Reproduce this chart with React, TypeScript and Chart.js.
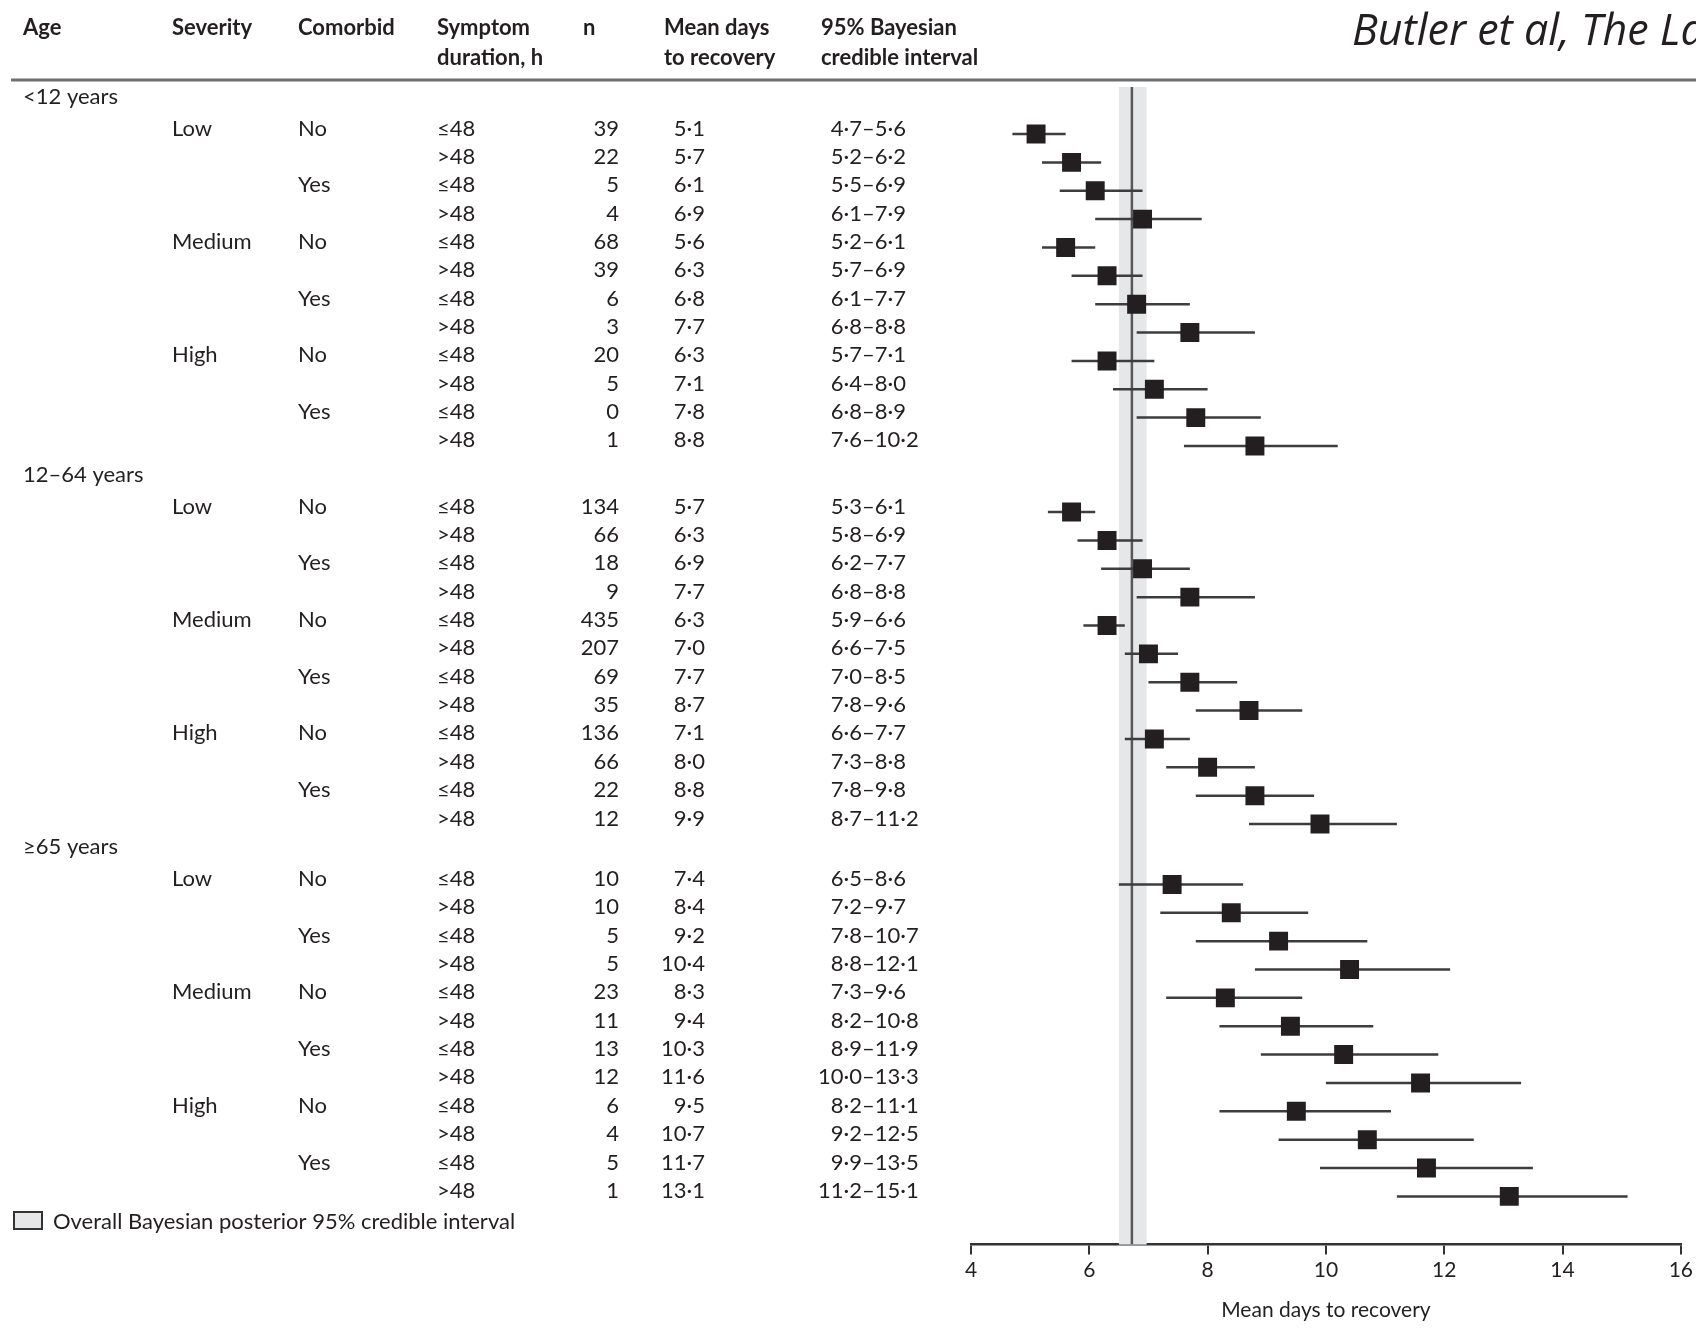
import React, { useEffect, useRef } from "react";
import { Chart, registerables } from "chart.js";

Chart.register(...registerables);

// ---------- data ----------
const AGE_GROUPS = ["<12 years", "12–64 years", "≥65 years"];
const SEVERITY = ["Low", "Medium", "High"];
const COMORBID = ["No", "Yes"];
const DURATION = ["≤48", ">48"];

const N_VALUES = [
  39, 22, 5, 4, 68, 39, 6, 3, 20, 5, 0, 1,
  134, 66, 18, 9, 435, 207, 69, 35, 136, 66, 22, 12,
  10, 10, 5, 5, 23, 11, 13, 12, 6, 4, 5, 1,
];
const MEAN_DAYS = [
  5.1, 5.7, 6.1, 6.9, 5.6, 6.3, 6.8, 7.7, 6.3, 7.1, 7.8, 8.8,
  5.7, 6.3, 6.9, 7.7, 6.3, 7.0, 7.7, 8.7, 7.1, 8.0, 8.8, 9.9,
  7.4, 8.4, 9.2, 10.4, 8.3, 9.4, 10.3, 11.6, 9.5, 10.7, 11.7, 13.1,
];
const CI_LOW = [
  4.7, 5.2, 5.5, 6.1, 5.2, 5.7, 6.1, 6.8, 5.7, 6.4, 6.8, 7.6,
  5.3, 5.8, 6.2, 6.8, 5.9, 6.6, 7.0, 7.8, 6.6, 7.3, 7.8, 8.7,
  6.5, 7.2, 7.8, 8.8, 7.3, 8.2, 8.9, 10.0, 8.2, 9.2, 9.9, 11.2,
];
const CI_HIGH = [
  5.6, 6.2, 6.9, 7.9, 6.1, 6.9, 7.7, 8.8, 7.1, 8.0, 8.9, 10.2,
  6.1, 6.9, 7.7, 8.8, 6.6, 7.5, 8.5, 9.6, 7.7, 8.8, 9.8, 11.2,
  8.6, 9.7, 10.7, 12.1, 9.6, 10.8, 11.9, 13.3, 11.1, 12.5, 13.5, 15.1,
];
const OVERALL_MEAN = 6.72;
const OVERALL_LOW = 6.5;
const OVERALL_HIGH = 6.97;
const X_TICKS = [4, 6, 8, 10, 12, 14, 16];

const HEADER_LINE1 = ["Age", "Severity", "Comorbid", "Symptom", "n", "Mean days", "95% Bayesian"];
const HEADER_LINE2 = ["", "", "", "duration, h", "", "to recovery", "credible interval"];
const LEGEND_TEXT = "Overall Bayesian posterior 95% credible interval";
const AXIS_TITLE = "Mean days to recovery";
const SOURCE_TEXT = "Butler et al, The Lancet";

// ---------- layout (not data) ----------
const ROWS_PER_GROUP = 12;
const GROUP_GAP = [0, 1.33, 2.46];
const Y_MIN = -1.658;
const Y_MAX = 39.16;
const HEADER_X = [23, 172, 298, 437, 583, 664, 821];
const TEXT = "#231f20";
const FONT = "Lato, 'Open Sans', sans-serif";

const rowPos = (i: number) => {
  const g = Math.floor(i / ROWS_PER_GROUP);
  return i + GROUP_GAP[g];
};
const fmt = (v: number) => v.toFixed(1).replace(".", "·");

const tablePlugin = {
  id: "tablePlugin",
  beforeDatasetsDraw(chart: any) {
    const { ctx, chartArea, scales } = chart;
    const x = scales.x;
    const x0 = x.getPixelForValue(OVERALL_LOW);
    const x1 = x.getPixelForValue(OVERALL_HIGH);
    ctx.save();
    ctx.fillStyle = "#e6e7e8";
    ctx.fillRect(x0, chartArea.top, x1 - x0, chartArea.bottom - chartArea.top);
    ctx.restore();
  },
  afterDraw(chart: any) {
    const { ctx, scales } = chart;
    const y = scales.y;
    const text = (s: string, px: number, py: number, align: CanvasTextAlign, font: string) => {
      ctx.font = font;
      ctx.textAlign = align;
      ctx.fillText(s, px, py);
    };
    ctx.save();
    ctx.fillStyle = TEXT;
    ctx.textBaseline = "alphabetic";

    // source
    text(SOURCE_TEXT, 1352, 45, "left", "italic 43px 'Open Sans', sans-serif");

    // header
    const hFont = `bold 22px ${FONT}`;
    HEADER_LINE1.forEach((h, i) => text(h, HEADER_X[i], 35, "left", hFont));
    HEADER_LINE2.forEach((h, i) => h && text(h, HEADER_X[i], 65, "left", hFont));

    // header rule
    ctx.strokeStyle = "#6d6e71";
    ctx.lineWidth = 3;
    ctx.beginPath();
    ctx.moveTo(11, 80);
    ctx.lineTo(1696, 80);
    ctx.stroke();

    const bFont = `22px ${FONT}`;
    AGE_GROUPS.forEach((a, g) => {
      const py = y.getPixelForValue(rowPos(g * ROWS_PER_GROUP)) - 30;
      text(a, 23, py, "left", bFont);
    });
    for (let i = 0; i < N_VALUES.length; i++) {
      const py = y.getPixelForValue(rowPos(i)) + 1.5;
      const r = i % ROWS_PER_GROUP;
      if (r % 4 === 0) text(SEVERITY[r / 4], 172, py, "left", bFont);
      if (r % 2 === 0) text(COMORBID[(r / 2) % 2], 298, py, "left", bFont);
      text(DURATION[r % 2], 437, py, "left", bFont);
      text(String(N_VALUES[i]), 619, py, "right", bFont);
      text(fmt(MEAN_DAYS[i]), 705, py, "right", bFont);
      text(fmt(CI_LOW[i]), 862, py, "right", bFont);
      text("–" + fmt(CI_HIGH[i]), 862, py, "left", bFont);
    }

    // legend
    ctx.fillStyle = "#e6e7e8";
    ctx.fillRect(14, 1212, 28, 17);
    ctx.strokeStyle = "#333333";
    ctx.lineWidth = 2;
    ctx.strokeRect(14, 1212, 28, 17);
    ctx.fillStyle = TEXT;
    text(LEGEND_TEXT, 53, 1229, "left", bFont);
    ctx.restore();
  },
};

export default function App() {
  const ref = useRef<HTMLCanvasElement | null>(null);
  useEffect(() => {
    if (!ref.current) return;
    const markers = MEAN_DAYS.map((m, i) => ({ x: m, y: rowPos(i) }));
    const ciLines: { x: number; y: number }[] = [];
    CI_LOW.forEach((lo, i) => {
      ciLines.push({ x: lo, y: rowPos(i) });
      ciLines.push({ x: CI_HIGH[i], y: rowPos(i) });
      ciLines.push({ x: NaN, y: NaN });
    });
    const chart = new Chart(ref.current, {
      type: "scatter",
      data: {
        datasets: [
          {
            label: "Mean",
            data: markers,
            pointStyle: "rect",
            pointRadius: 13.4,
            pointHoverRadius: 13.4,
            backgroundColor: "#231f20",
            borderWidth: 0,
            showLine: false,
          },
          {
            label: "CI",
            data: ciLines,
            showLine: true,
            spanGaps: false,
            pointRadius: 0,
            borderColor: "#3d3d3d",
            borderWidth: 2.5,
          },
          {
            label: "Overall",
            data: [
              { x: OVERALL_MEAN, y: Y_MIN },
              { x: OVERALL_MEAN, y: Y_MAX },
            ],
            showLine: true,
            pointRadius: 0,
            borderColor: "#58585a",
            borderWidth: 2.5,
          },
        ],
      },
      options: {
        responsive: false,
        animation: false,
        devicePixelRatio: 1,
        layout: { padding: { left: 971, right: 14, top: 87, bottom: 12 } },
        plugins: { legend: { display: false }, tooltip: { enabled: false } },
        scales: {
          x: {
            type: "linear",
            position: "bottom",
            min: 4,
            max: 16,
            afterBuildTicks: (s: any) => {
              s.ticks = X_TICKS.map((v) => ({ value: v }));
            },
            ticks: {
              color: TEXT,
              font: { family: FONT, size: 21 },
              padding: 3,
              autoSkip: false,
              maxRotation: 0,
            },
            grid: {
              drawOnChartArea: false,
              drawTicks: true,
              tickLength: 10,
              color: "#333333",
              tickWidth: 2,
              lineWidth: 2,
            },
            border: { display: true, color: "#333333", width: 2.5 },
            title: {
              display: true,
              text: AXIS_TITLE,
              color: TEXT,
              font: { family: FONT, size: 21 },
              padding: { top: 12, bottom: 0 },
            },
          },
          y: { type: "linear", min: Y_MIN, max: Y_MAX, reverse: true, display: false },
        },
      },
      plugins: [tablePlugin],
    } as any);
    return () => chart.destroy();
  }, []);
  return (
    <div style={{ position: "absolute", left: 0, top: 0, width: 1696, height: 1335, background: "#fff" }}>
      <canvas ref={ref} width={1696} height={1335} style={{ display: "block" }} />
    </div>
  );
}
